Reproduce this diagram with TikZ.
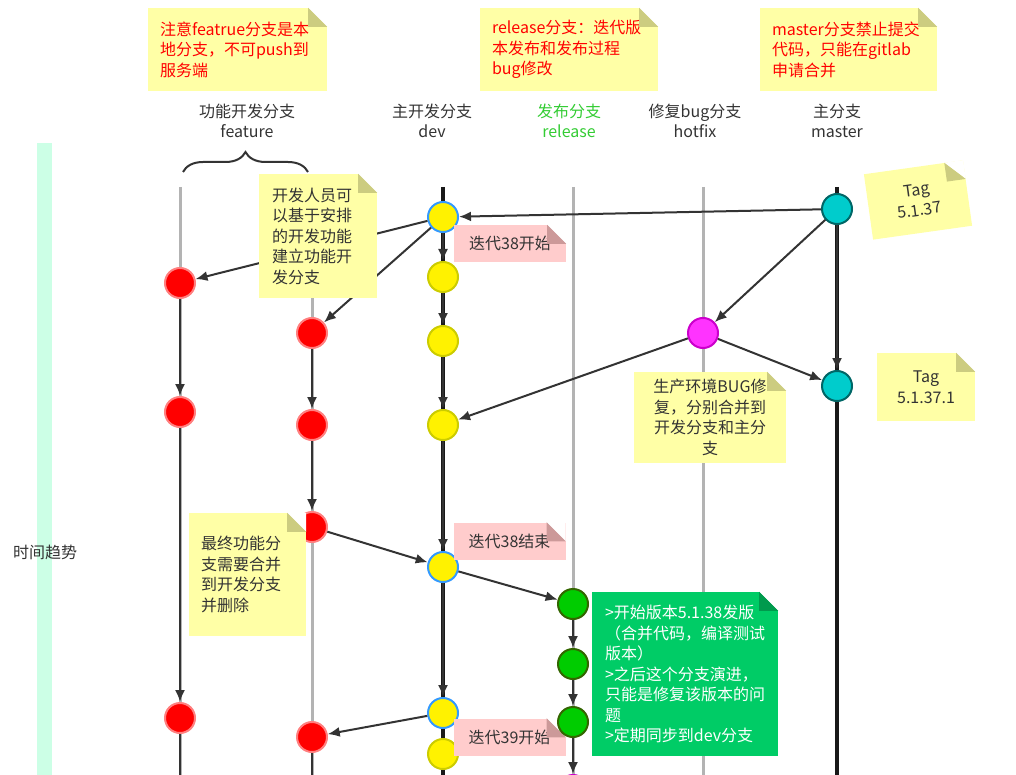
\documentclass[tikz,border=0pt]{standalone}
\usepackage{fontspec}
\setmainfont{Noto Sans CJK SC}
\usetikzlibrary{arrows.meta,calc,decorations.pathreplacing}

% Colours
\definecolor{noteyellow}{HTML}{FFFFA6}
\definecolor{foldyellow}{HTML}{CCCC80}
\definecolor{notepink}{HTML}{FFCCCC}
\definecolor{foldpink}{HTML}{CC9999}
\definecolor{notegreen}{HTML}{00CC66}
\definecolor{foldgreen}{HTML}{009A4D}
\definecolor{timebar}{HTML}{CCFFE6}
\definecolor{lanegrey}{HTML}{B3B3B3}
\definecolor{linkgrey}{HTML}{333333}
\definecolor{textgrey}{HTML}{333333}
\definecolor{relgreen}{HTML}{33CC33}
\definecolor{notered}{HTML}{FF0000}

\tikzset{
  every node/.style={font=\fontsize{16}{20.5}\selectfont, text=textgrey},
  commitdot/.style={circle, minimum size=30pt, inner sep=0pt, line width=2pt},
  featdot/.style={commitdot, fill=red, draw={rgb,255:red,255;green,128;blue,128}},
  devdot/.style={commitdot, fill=yellow, draw={rgb,255:red,204;green,204;blue,0}},
  devmark/.style={commitdot, fill=yellow, draw={rgb,255:red,51;green,153;blue,255}},
  reldot/.style={commitdot, fill={rgb,255:red,0;green,204;blue,0}, draw={rgb,255:red,51;green,102;blue,0}},
  masdot/.style={commitdot, fill={rgb,255:red,0;green,204;blue,204}, draw={rgb,255:red,0;green,102;blue,102}},
  fixdot/.style={commitdot, fill={rgb,255:red,255;green,51;blue,255}, draw={rgb,255:red,204;green,0;blue,204}},
  lanegray/.style={lanegrey, line width=3pt},
  lanedark/.style={black!90, line width=3.5pt},
  flowline/.style={linkgrey, line width=2pt},
  flow/.style={flowline, -{Latex[length=12pt,width=10pt]}},
  yellownote/.style={fill=noteyellow, inner xsep=12pt, inner ysep=0pt, align=left},
  pinknote/.style={fill=notepink, inner sep=0pt, align=center, minimum width=112pt, minimum height=37pt},
}

% folded corner of a sticky note
\newcommand{\notefold}[2]{%
  \coordinate (#1-fa) at ($(#1.north east)!19pt!(#1.north west)$);
  \coordinate (#1-fb) at ($(#1.north east)!19pt!(#1.south east)$);
  \fill[white] (#1-fa) -- (#1.north east) -- (#1-fb) -- cycle;
  \fill[#2] (#1-fa) -- (#1-fb) -- ($(#1-fa)+(#1-fb)-(#1.north east)$) -- cycle;
}

\begin{document}
\begin{tikzpicture}[x=1pt, y=-1pt]
\useasboundingbox (0,0) rectangle (1016,775);
\clip (0,0) rectangle (1016,775);

% Time axis
\fill[timebar] (37,143) rectangle (52,775);
\node (trend) at (45,552) {时间趋势};

% Branch headers
\node[align=center] (hfeat) at (247,121) {功能开发分支\\feature};
\node[align=center] (hdev) at (432,121) {主开发分支\\dev};
\node[align=center, text=relgreen] (hrel) at (569,121) {发布分支\\release};
\node[align=center] (hfix) at (695,121) {修复bug分支\\hotfix};
\node[align=center] (hmas) at (837,121) {主分支\\master};

% Brace over the feature branches
\draw[linkgrey, line width=2pt, decorate, decoration={brace, amplitude=20pt}] (183,172) -- (308,172);

% Lanes
\foreach \x in {180,312,573,703}
  \draw[lanegray] (\x,187) -- (\x,775);
\foreach \x in {443,837}
  \draw[lanedark] (\x,187) -- (\x,775);

% Commits: feature
\node[featdot] (f1a) at (180,283) {};
\node[featdot] (f1b) at (180,412) {};
\node[featdot] (f1c) at (180,718) {};
\node[featdot] (f2a) at (312,333) {};
\node[featdot] (f2b) at (312,425) {};
\node[featdot] (f2c) at (312,527) {};
\node[featdot] (f2d) at (312,737) {};

% Commits: dev
\node[devmark] (d1) at (443,217) {};
\node[devdot] (d2) at (443,277) {};
\node[devdot] (d3) at (443,341) {};
\node[devdot] (d4) at (443,425) {};
\node[devmark] (d5) at (443,567) {};
\node[devmark] (d6) at (443,713) {};
\node[devdot] (d7) at (443,754) {};

% Iterations
\node[pinknote] (it38s) at (510,243.5) {迭代38开始};
\notefold{it38s}{foldpink}
\node[pinknote] (it38e) at (509.5,541) {迭代38结束};
\notefold{it38e}{foldpink}
\node[pinknote] (it39s) at (509.5,737) {迭代39开始};
\notefold{it39s}{foldpink}

% Commits: release, hotfix, master
\node[reldot] (r1) at (573,604) {};
\node[reldot] (r2) at (573,664) {};
\node[reldot] (r3) at (573,722) {};
\node[fixdot] (r4) at (573,790) {};
\node[fixdot] (h1) at (703,333) {};
\node[masdot] (m1) at (837,209) {};
\node[masdot] (m2) at (837,386) {};

% History along the branches
\coordinate (f1end) at (180,775);
\coordinate (f2end) at (312,775);
\draw[flow] (f1a) -- (f1b);
\draw[flow] (f1b) -- (f1c);
\draw[flowline] (f1c) -- (f1end);
\draw[flow] (f2a) -- (f2b);
\draw[flow] (f2b) -- (f2c);
\draw[flowline] (f2d) -- (f2end);
\foreach \a/\b in {d1/d2,d2/d3,d3/d4,d4/d5,d5/d6,r1/r2,r2/r3,r3/r4,m1/m2}
  \draw[flow] (\a) -- (\b);

% Merges between branches
\draw[flow] (m1) -- (d1);
\draw[flow] (m1) -- (h1);
\draw[flow] (h1) -- (m2);
\draw[flow] (h1) -- (d4);
\draw[flow] (d1) -- (f1a);
\draw[flow] (d1) -- (f2a);
\draw[flow] (f2c) -- (d5);
\draw[flow] (d5) -- (r1);
\draw[flow] (d6) -- (f2d);

% Notes at the top
\node[yellownote, text=notered, text width=155pt, minimum height=83pt] (featnote) at (237.5,49.5) {注意featrue分支是本\\地分支，不可push到\\服务端};
\notefold{featnote}{foldyellow}
\node[yellownote, text=notered, text width=154pt, minimum height=83pt] (relnote) at (569,49.5) {release分支：迭代版\\本发布和发布过程\\bug修改};
\notefold{relnote}{foldyellow}
\node[yellownote, text=notered, text width=153pt, minimum height=83pt] (masnote) at (848.5,49.5) {master分支禁止提交\\代码，只能在gitlab\\申请合并};
\notefold{masnote}{foldyellow}

% Tags
\node[yellownote, align=center, inner xsep=0pt, minimum width=100pt, minimum height=66pt, rotate=8] (tag1) at (918,200) {Tag\\5.1.37};
\notefold{tag1}{foldyellow}
\node[yellownote, align=center, inner xsep=0pt, minimum width=98pt, minimum height=68pt] (tag2) at (926,387) {Tag\\5.1.37.1};
\notefold{tag2}{foldyellow}

% Notes along the branches
\node[yellownote, inner xsep=13pt, text width=92pt, minimum height=124pt] (devnote) at (318,236) {开发人员可\\以基于安排\\的开发功能\\建立功能开\\发分支};
\notefold{devnote}{foldyellow}
\node[yellownote, align=center, text width=128pt, minimum height=91pt] (fixnote) at (710,417.5) {生产环境BUG修\\复，分别合并到\\开发分支和主分\\支};
\notefold{fixnote}{foldyellow}
\node[yellownote, text width=93pt, minimum height=123pt] (mergenote) at (247.5,574.5) {最终功能分\\支需要合并\\到开发分支\\并删除};
\notefold{mergenote}{foldyellow}

% Release note
\node[fill=notegreen, text=white, inner xsep=13pt, inner ysep=0pt, align=left, text width=160pt, minimum height=164pt] (relplan) at (685,674) {>开始版本5.1.38发版\\（合并代码，编译测试\\版本）\\>之后这个分支演进，\\只能是修复该版本的问\\题\\>定期同步到dev分支};
\notefold{relplan}{foldgreen}

\end{tikzpicture}
\end{document}
